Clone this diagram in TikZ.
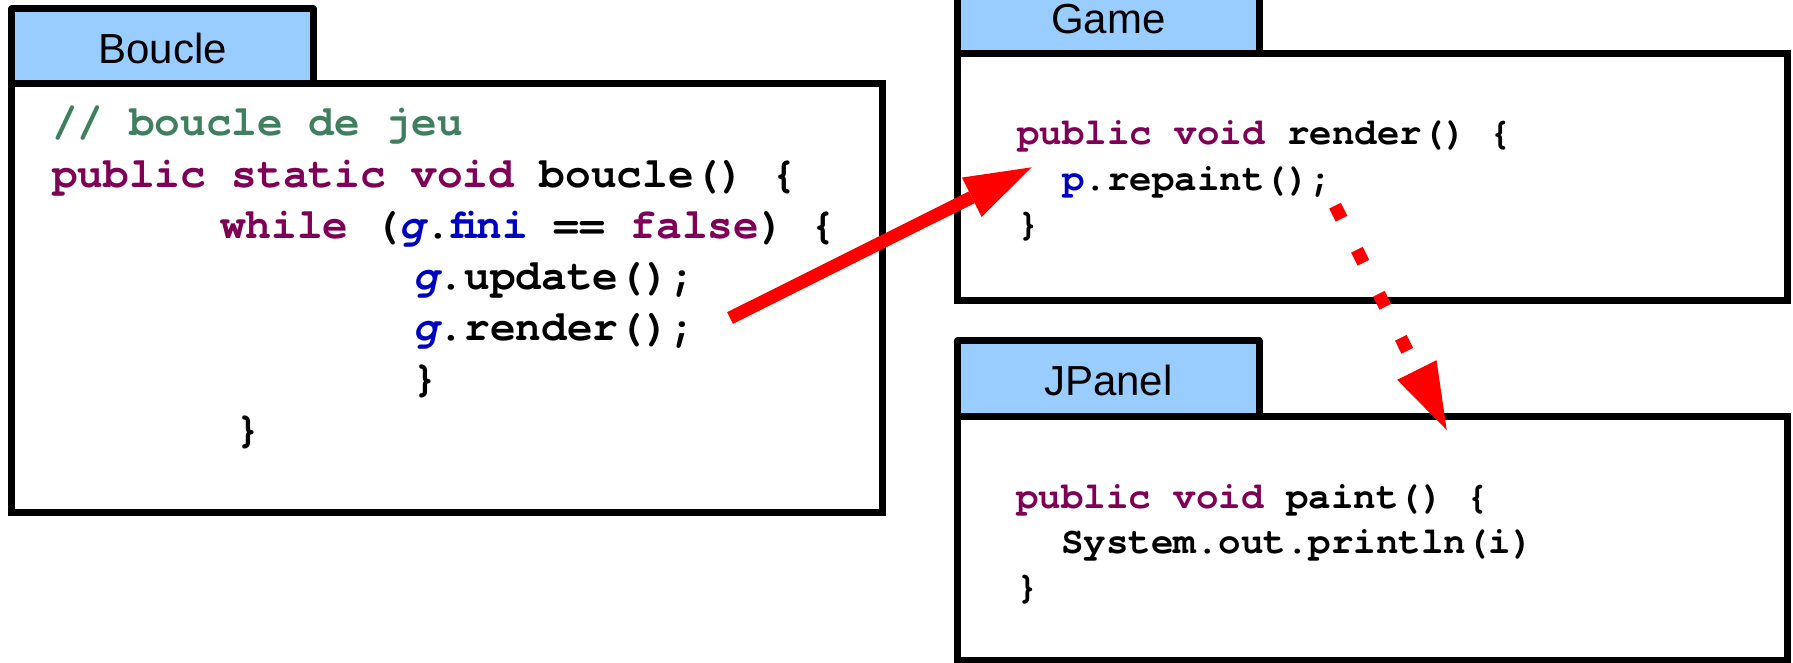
\documentclass[tikz,border=0pt]{standalone}
\usepackage{fontspec}
\setmainfont{Liberation Sans}
\newfontfamily\codefont{TeX Gyre Cursor}
\usetikzlibrary{arrows.meta}
\definecolor{kwcol}{HTML}{7F0055}
\definecolor{cmcol}{HTML}{3F7F5F}
\definecolor{flcol}{HTML}{0000C0}
\definecolor{tabblue}{HTML}{99CCFF}
\definecolor{arrowred}{HTML}{FF0000}
\newcommand{\kwd}[1]{\textcolor{kwcol}{#1}}
\newcommand{\fld}[1]{\textcolor{flcol}{#1}}
\newcommand{\sfld}[1]{\textcolor{flcol}{\itshape #1}}
\begin{document}
\begin{tikzpicture}[x=1pt,y=-1pt,
  frame/.style={draw=black, line width=7pt, fill=white, rectangle, inner sep=0pt, outer sep=0pt, anchor=north west},
  tabbox/.style={frame, fill=tabblue, line join=round, font=\fontsize{42}{42}\selectfont, text height=34pt, text depth=0pt},
  bigcode/.style={anchor=base west, inner sep=0pt, outer sep=0pt, font=\codefont\bfseries\fontsize{42.8}{51}\selectfont},
  smallcode/.style={anchor=base west, inner sep=0pt, outer sep=0pt, font=\codefont\bfseries\fontsize{37.5}{45}\selectfont},
  bigarrow/.style={line width=13pt, draw=arrowred, -{Triangle[length=67pt,width=44pt,line width=0pt]}}
]
\useasboundingbox (0,0) rectangle (1793,663);
\clip (0,0) rectangle (1793,663);

% Boucle
\node[tabbox, minimum width=302pt, minimum height=74.5pt] (boucletab) at (11.5,9) {Boucle};
\node[frame, minimum width=870.5pt, minimum height=429pt] (boucle) at (11.5,83.5) {};
\node[bigcode] (b1) at (52,136) {\textcolor{cmcol}{// boucle de jeu}};
\node[bigcode] (b2) at (52,187.5) {\kwd{public static void} boucle() \{};
\node[bigcode] (b3) at (220,238.5) {\kwd{while} (\sfld{g}.\fld{fini} == \kwd{false}) \{};
\node[bigcode] (b4) at (413,289) {\sfld{g}.update();};
\node[bigcode] (b5) at (413,340) {\sfld{g}.render();};
\node[bigcode] (b6) at (412,391) {\}};
\node[bigcode] (b7) at (235,442) {\}};

% Game
\node[tabbox, minimum width=301.3pt, minimum height=75pt] (gametab) at (957.7,-21.3) {Game};
\node[frame, minimum width=829.3pt, minimum height=246.3pt] (game) at (957.7,53.7) {};
\node[smallcode] (g1) at (1017,144.5) {\kwd{public void} render() \{};
\node[smallcode] (g2) at (1062,191) {\fld{p}.repaint();};
\node[smallcode] (g3) at (1017,236) {\}};

% JPanel
\node[tabbox, minimum width=301.3pt, minimum height=75.6pt] (paneltab) at (957.7,340.7) {JPanel};
\node[frame, minimum width=829.3pt, minimum height=243.7pt] (panel) at (957.7,416.3) {};
\node[smallcode] (p1) at (1016,508.5) {\kwd{public void} paint() \{};
\node[smallcode] (p2) at (1061,553.5) {System.out.println(i)};
\node[smallcode] (p3) at (1016,598.5) {\}};

% connectors
\coordinate (a1s) at (730,318);
\coordinate (a1e) at (1031.7,167.3);
\coordinate (a2s) at (1335,205.7);
\coordinate (a2e) at (1446.7,430);
\draw[bigarrow] (a1s) -- (a1e);
\draw[bigarrow, dash pattern=on 14.5pt off 34.7pt] (a2s) -- (a2e);
\end{tikzpicture}
\end{document}
